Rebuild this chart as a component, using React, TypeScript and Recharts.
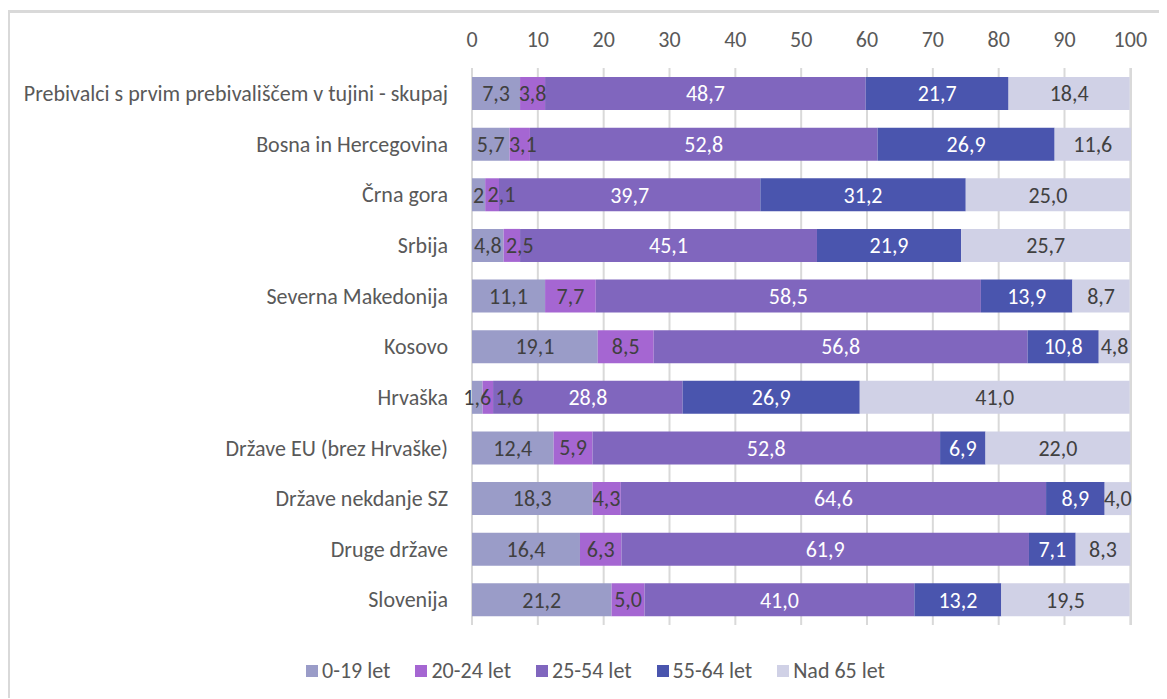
import {
  Bar,
  BarChart,
  CartesianGrid,
  LabelList,
  Legend,
  XAxis,
  YAxis,
} from "recharts";

const categories = [
  "Prebivalci s prvim prebivališčem v tujini - skupaj",
  "Bosna in Hercegovina",
  "Črna gora",
  "Srbija",
  "Severna Makedonija",
  "Kosovo",
  "Hrvaška",
  "Države EU (brez Hrvaške)",
  "Države nekdanje SZ",
  "Druge države",
  "Slovenija",
];

const age0_19 = [7.3, 5.7, 2, 4.8, 11.1, 19.1, 1.6, 12.4, 18.3, 16.4, 21.2];
const age20_24 = [3.8, 3.1, 2.1, 2.5, 7.7, 8.5, 1.6, 5.9, 4.3, 6.3, 5.0];
const age25_54 = [48.7, 52.8, 39.7, 45.1, 58.5, 56.8, 28.8, 52.8, 64.6, 61.9, 41.0];
const age55_64 = [21.7, 26.9, 31.2, 21.9, 13.9, 10.8, 26.9, 6.9, 8.9, 7.1, 13.2];
const age65 = [18.4, 11.6, 25.0, 25.7, 8.7, 4.8, 41.0, 22.0, 4.0, 8.3, 19.5];

const xTicks = [0, 10, 20, 30, 40, 50, 60, 70, 80, 90, 100];

const chartData = categories.map((name, i) => ({
  name,
  a: age0_19[i],
  b: age20_24[i],
  c: age25_54[i],
  d: age55_64[i],
  e: age65[i],
}));

const series = [
  { key: "a", label: "0-19 let", color: "#9a9cc8", text: "#404040" },
  { key: "b", label: "20-24 let", color: "#a566d2", text: "#404040" },
  { key: "c", label: "25-54 let", color: "#8066be", text: "#ffffff" },
  { key: "d", label: "55-64 let", color: "#4a55ae", text: "#ffffff" },
  { key: "e", label: "Nad 65 let", color: "#d0d1e6", text: "#404040" },
];

const FONT = "Carlito, Calibri, Lato, sans-serif";
const FS = 22;

const fmt = (v: number) => (v === 2 ? "2" : v.toFixed(1).replace(".", ","));

// rough text width, good enough to push colliding labels apart like Excel does
const textW = (s: string) =>
  s.split("").reduce((w, ch) => w + (ch === "," ? 0.25 : 0.58) * FS, 0);

// label for the 20-24 series: centred, but nudged right if it would run into the 0-19 label
function NudgedLabel(props: any) {
  const vb = props.viewBox ?? props;
  const { x, y, width, height } = vb;
  const value = Number(props.value);
  const index = props.index ?? 0;
  const text = fmt(value);
  const perUnit = value ? width / value : 0;
  const prev = age0_19[index];
  const prevW = prev * perUnit;
  const prevRight = x - prevW / 2 + textW(fmt(prev)) / 2;
  let cx = x + width / 2;
  const w = textW(text);
  if (cx - w / 2 < prevRight + 1) cx = prevRight + 1 + w / 2;
  return (
    <text
      x={cx}
      y={y + height / 2}
      textAnchor="middle"
      dominantBaseline="central"
      fill="#404040"
      fontSize={FS}
      fontFamily={FONT}
    >
      {text}
    </text>
  );
}

function LegendBox() {
  return (
    <div
      style={{
        display: "flex",
        justifyContent: "center",
        paddingLeft: 52,
        fontFamily: FONT,
        fontSize: FS,
        color: "#595959",
      }}
    >
      {series.map((s, i) => (
        <div
          key={s.key}
          style={{
            display: "flex",
            alignItems: "center",
            marginRight: i < series.length - 1 ? 25 : 0,
          }}
        >
          <span
            style={{
              width: 12,
              height: 12,
              background: s.color,
              marginRight: 4,
              display: "inline-block",
            }}
          />
          <span>{s.label}</span>
        </div>
      ))}
    </div>
  );
}

export default function App() {
  return (
    <div style={{ position: "relative", width: 1159, height: 690 }}>
      <div
        style={{
          position: "absolute",
          left: -1,
          top: 2,
          width: 1170,
          height: 700,
          borderLeft: "3px solid #d9d9d9",
          borderTop: "3px solid #d9d9d9",
          boxSizing: "border-box",
        }}
      />
      <BarChart
        width={1159}
        height={690}
        data={chartData}
        layout="vertical"
        margin={{ top: 10, right: 36, bottom: 46, left: 0 }}
        style={{ fontFamily: FONT }}
      >
        <CartesianGrid horizontal={false} stroke="#d9d9d9" strokeWidth={2} />
        <XAxis
          type="number"
          orientation="top"
          domain={[0, 100]}
          ticks={xTicks}
          height={50}
          axisLine={false}
          tickLine={false}
          tickMargin={15}
          tick={{ fontSize: FS, fill: "#595959" }}
        />
        <YAxis
          type="category"
          dataKey="name"
          width={464}
          axisLine={false}
          tickLine={false}
          tickSize={0}
          tickMargin={24}
          tick={{ fontSize: FS, fill: "#595959" }}
        />
        <Legend
          verticalAlign="bottom"
          wrapperStyle={{ bottom: 14 }}
          content={() => <LegendBox />}
        />
        {series.map((s) => (
          <Bar
            key={s.key}
            dataKey={s.key}
            name={s.label}
            stackId="s"
            fill={s.color}
            barSize={33}
            isAnimationActive={false}
          >
            {s.key === "b" ? (
              <LabelList dataKey={s.key} content={NudgedLabel} />
            ) : (
              <LabelList
                dataKey={s.key}
                position="center"
                fill={s.text}
                fontSize={FS}
                formatter={(v: number) => fmt(v)}
              />
            )}
          </Bar>
        ))}
      </BarChart>
    </div>
  );
}
